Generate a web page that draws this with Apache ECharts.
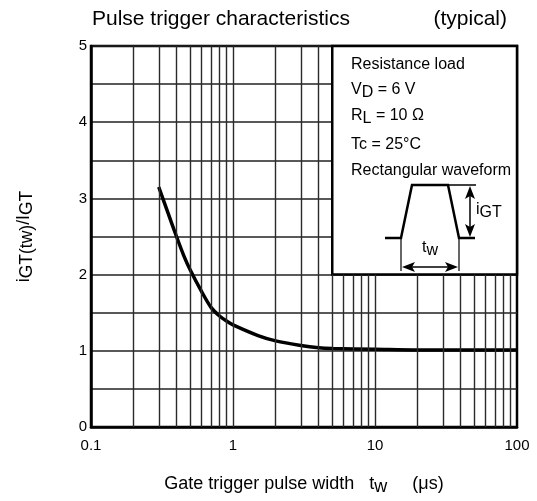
<!DOCTYPE html>
<html>
<head>
<meta charset="utf-8">
<script src="https://cdn.jsdelivr.net/npm/echarts@6/dist/echarts.min.js"></script>
<style>
  html, body { margin: 0; padding: 0; background: #fff; }
  #chart { width: 537px; height: 501px; }
</style>
</head>
<body>
<div id="chart"></div>
<script>
// pulse trigger curve
const pulseWidth = [0.3, 0.35, 0.4, 0.45, 0.5, 0.6, 0.7, 0.8, 0.9, 1, 1.5, 2, 3, 4, 5, 10, 20, 50, 100];
const triggerRatio = [3.15, 2.8, 2.5, 2.25, 2.06, 1.78, 1.57, 1.46, 1.39, 1.34, 1.2, 1.13, 1.07, 1.04, 1.03, 1.02, 1.01, 1.01, 1.01];

// vertical log grid lines (0.1 and 100 are the frame)
const xGrid = [0.2, 0.3, 0.4, 0.5, 0.6, 0.7, 0.8, 0.9, 1, 2, 3, 4, 5, 6, 7, 8, 9, 10, 20, 30, 40, 50, 60, 70, 80, 90];

// conditions box (x from 5 to 100 us, y from 2 to 5)
const boxFrom = [5, 2];
const boxTo = [100, 5];

const FONT = 'Liberation Sans, Arial, sans-serif';

// subscript trick: the normal token hugs the top, the taller sub token sits lower
function richSet(size) {
  return {
    n: { fontSize: size, fontFamily: FONT, fill: '#000', color: '#000', lineHeight: size, verticalAlign: 'top' },
    s: { fontSize: size, fontFamily: FONT, fill: '#000', color: '#000', lineHeight: size + 6, verticalAlign: 'middle' }
  };
}

const chart = echarts.init(document.getElementById('chart'), null, { renderer: 'canvas' });

const insetLines = [
  { y: 65, text: '{n|Resistance load}' },
  { y: 93, text: '{n|V}{s|D}{n| = 6 V}' },
  { y: 119, text: '{n|R}{s|L}{n| = 10 Ω}' },
  { y: 145, text: '{n|Tc = 25°C}' },
  { y: 171, text: '{n|Rectangular waveform}' }
];

const graphics = insetLines.map(l => ({
  type: 'text',
  z: 100,
  style: {
    text: l.text, x: 351, y: l.y, align: 'left', verticalAlign: 'middle',
    fontSize: 16, fontFamily: FONT, fill: '#000', rich: richSet(16)
  }
}));

// waveform sketch
graphics.push(
  { type: 'polyline', z: 100, shape: { points: [[385, 238], [401, 238], [412, 185], [448, 185], [459, 238], [475, 238]] }, style: { stroke: '#000', lineWidth: 2.5, fill: null } },
  { type: 'line', z: 100, shape: { x1: 448, y1: 185, x2: 476, y2: 185 }, style: { stroke: '#000', lineWidth: 1.5 } },
  { type: 'line', z: 100, shape: { x1: 470, y1: 195, x2: 470, y2: 228 }, style: { stroke: '#000', lineWidth: 1.5 } },
  { type: 'polygon', z: 100, shape: { points: [[470, 186], [465, 199], [470, 196], [475, 199]] }, style: { fill: '#000' } },
  { type: 'polygon', z: 100, shape: { points: [[470, 237], [465, 224], [470, 227], [475, 224]] }, style: { fill: '#000' } },
  { type: 'line', z: 100, shape: { x1: 401, y1: 238, x2: 401, y2: 271 }, style: { stroke: '#000', lineWidth: 1.2 } },
  { type: 'line', z: 100, shape: { x1: 459, y1: 238, x2: 459, y2: 271 }, style: { stroke: '#000', lineWidth: 1.2 } },
  { type: 'line', z: 100, shape: { x1: 410, y1: 267, x2: 450, y2: 267 }, style: { stroke: '#000', lineWidth: 1.5 } },
  { type: 'polygon', z: 100, shape: { points: [[402, 267], [415, 262], [412, 267], [415, 272]] }, style: { fill: '#000' } },
  { type: 'polygon', z: 100, shape: { points: [[458, 267], [445, 262], [448, 267], [445, 272]] }, style: { fill: '#000' } },
  {
    type: 'text', z: 100,
    style: { text: '{n|i}{s|GT}', x: 476, y: 213, align: 'left', verticalAlign: 'middle', fontSize: 16, fontFamily: FONT, fill: '#000', rich: richSet(16) }
  },
  {
    type: 'text', z: 100,
    style: { text: '{n|t}{s|w}', x: 430, y: 251, align: 'center', verticalAlign: 'middle', fontSize: 16, fontFamily: FONT, fill: '#000', rich: richSet(16) }
  }
);

const option = {
  animation: false,
  backgroundColor: '#fff',
  title: [
    { text: 'Pulse trigger characteristics', left: 92, top: 9, padding: 0, textStyle: { fontSize: 21, fontWeight: 'normal', fontFamily: FONT, color: '#000' } },
    { text: '(typical)', right: 30, top: 9, padding: 0, textStyle: { fontSize: 21, fontWeight: 'normal', fontFamily: FONT, color: '#000' } }
  ],
  grid: {
    left: 91, right: 20, top: 46, bottom: 71,
    show: true, borderColor: '#000', borderWidth: 2.5, backgroundColor: '#fff'
  },
  xAxis: {
    type: 'log',
    logBase: 10,
    min: 0.1,
    max: 100,
    name: '{n|Gate trigger pulse width   t}{s|w}{n|     (μs)}',
    nameLocation: 'middle',
    nameGap: 48,
    nameTextStyle: { fontSize: 18, fontFamily: FONT, color: '#000', rich: richSet(18) },
    axisLine: { lineStyle: { color: '#000', width: 2.5 } },
    axisTick: { show: false },
    axisLabel: { fontSize: 15, fontFamily: FONT, color: '#000', margin: 11 },
    splitLine: { show: false }
  },
  yAxis: {
    type: 'value',
    min: 0,
    max: 5,
    interval: 0.5,
    name: '{n|i}{s|GT(tw)}{n|/I}{s|GT}',
    nameLocation: 'middle',
    nameRotate: 90,
    nameGap: 52,
    nameTextStyle: { fontSize: 17.5, fontFamily: FONT, color: '#000', rich: richSet(17.5) },
    axisLine: { lineStyle: { color: '#000', width: 2.5 } },
    axisTick: { show: false },
    axisLabel: {
      fontSize: 15, fontFamily: FONT, color: '#000', margin: 4,
      formatter: v => (Number.isInteger(v) ? String(v) : '')
    },
    splitLine: { show: true, lineStyle: { color: '#222', width: 1.5 } }
  },
  series: [
    {
      // vertical grid, stopped at the box for x >= 5
      type: 'line',
      z: 2,
      data: [],
      silent: true,
      markLine: {
        silent: true,
        symbol: ['none', 'none'],
        label: { show: false },
        lineStyle: { color: '#2a2a2a', width: 1.4, type: 'solid' },
        emphasis: { disabled: true },
        data: xGrid.map(v => [
          { coord: [v, 0] },
          { coord: [v, v >= boxFrom[0] ? boxFrom[1] : 5] }
        ])
      }
    },
    {
      // conditions box
      type: 'line',
      z: 3,
      data: [boxFrom],
      showSymbol: false,
      lineStyle: { width: 0 },
      silent: true,
      markArea: {
        silent: true,
        itemStyle: { color: '#fff', borderColor: '#000', borderWidth: 2.5 },
        label: { show: false },
        data: [[{ coord: boxFrom }, { coord: boxTo }]]
      }
    },
    {
      type: 'line',
      z: 4,
      smooth: 0.3,
      showSymbol: false,
      lineStyle: { color: '#000', width: 3.5 },
      data: pulseWidth.map((x, i) => [x, triggerRatio[i]])
    }
  ],
  graphic: graphics
};

chart.setOption(option);
</script>
</body>
</html>
